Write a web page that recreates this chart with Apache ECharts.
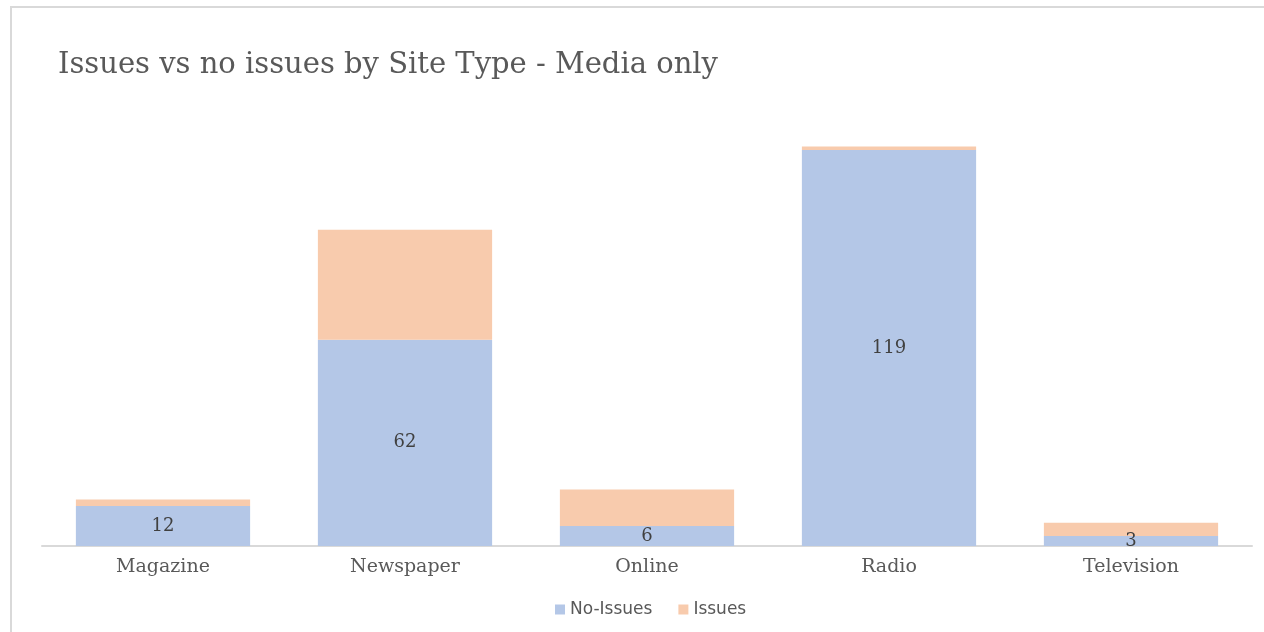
<!DOCTYPE html>
<html><head><meta charset="utf-8">
<script src="https://cdn.jsdelivr.net/npm/echarts@6/dist/echarts.min.js"></script>
<style>
html,body{margin:0;padding:0;background:#fff;overflow:hidden;}
#frame{position:absolute;left:10px;top:6px;width:1300px;height:700px;border-left:2px solid #d9d9d9;border-top:2px solid #d9d9d9;}
#c{position:absolute;left:0;top:0;width:1264px;height:632px;}
</style></head>
<body><div id="frame"></div><div id="c"></div>
<script>
var categories = ['Magazine','Newspaper','Online','Radio','Television'];
var noIssues = [12, 62, 6, 119, 3];
var issues = [2, 33, 11, 1, 4];
var titleText = 'Issues vs no issues by Site Type - Media only';

var chart = echarts.init(document.getElementById('c'));
var serif = '"DejaVu Serif", "Liberation Serif", serif';
chart.setOption({
  animation:false,
  title:{text:titleText,left:53,top:46,textStyle:{fontFamily:serif,fontSize:29,fontWeight:'normal',color:'#595959'}},
  legend:{top:596,left:550,itemWidth:10,itemHeight:10,itemGap:26,icon:'rect',
    textStyle:{fontFamily:'"DejaVu Sans", sans-serif',fontSize:17,color:'#595959'},
    data:['No-Issues','Issues']},
  grid:{left:42,right:12,top:80,bottom:86},
  xAxis:{type:'category',data:categories,
    axisLine:{lineStyle:{color:'#d9d9d9',width:2}},axisTick:{show:false},
    axisLabel:{fontFamily:serif,fontSize:19,color:'#595959',margin:12}},
  yAxis:{type:'value',min:0,max:140,show:false,splitLine:{show:false}},
  series:[
    {name:'No-Issues',type:'bar',stack:'a',data:noIssues,barWidth:'72%',
     itemStyle:{color:'#B4C7E7'},
     label:{show:true,position:'inside',fontFamily:serif,fontSize:18,color:'#404040'}},
    {name:'Issues',type:'bar',stack:'a',data:issues,barWidth:'72%',
     itemStyle:{color:'#F8CBAD'}}
  ]
});
</script></body></html>
